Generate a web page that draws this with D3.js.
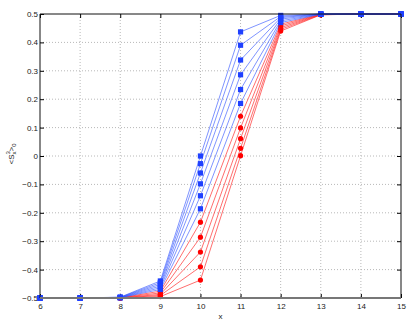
<!DOCTYPE html>
<html>
<head>
<meta charset="utf-8">
<script src="https://cdn.jsdelivr.net/npm/d3@7"></script>
<style>
  body { margin: 0; background: #fff; }
  svg { font-family: "Liberation Sans", Arial, sans-serif; }
</style>
</head>
<body>
<script>
// x positions
const xs = [6, 7, 8, 9, 10, 11, 12, 13, 14, 15];
const xTicks = [6, 7, 8, 9, 10, 11, 12, 13, 14, 15];
const yTicks = [-0.5, -0.4, -0.3, -0.2, -0.1, 0, 0.1, 0.2, 0.3, 0.4, 0.5];

// blue series (square markers)
const b1 = [-0.5, -0.5, -0.497, -0.440, 0.000, 0.437, 0.495, 0.500, 0.5, 0.5];
const b2 = [-0.5, -0.5, -0.4975, -0.446, -0.027, 0.390, 0.491, 0.500, 0.5, 0.5];
const b3 = [-0.5, -0.5, -0.498, -0.452, -0.060, 0.338, 0.487, 0.500, 0.5, 0.5];
const b4 = [-0.5, -0.5, -0.4985, -0.458, -0.098, 0.286, 0.482, 0.4995, 0.5, 0.5];
const b5 = [-0.5, -0.5, -0.499, -0.464, -0.140, 0.234, 0.476, 0.4995, 0.5, 0.5];
const b6 = [-0.5, -0.5, -0.499, -0.470, -0.186, 0.185, 0.470, 0.499, 0.5, 0.5];
// red series (circle markers)
const r1 = [-0.5, -0.5, -0.4995, -0.476, -0.233, 0.140, 0.464, 0.499, 0.5, 0.5];
const r2 = [-0.5, -0.5, -0.4995, -0.482, -0.286, 0.099, 0.458, 0.4985, 0.5, 0.5];
const r3 = [-0.5, -0.5, -0.5, -0.487, -0.338, 0.061, 0.452, 0.498, 0.5, 0.5];
const r4 = [-0.5, -0.5, -0.5, -0.491, -0.390, 0.027, 0.446, 0.4975, 0.5, 0.5];
const r5 = [-0.5, -0.5, -0.5, -0.495, -0.437, 0.001, 0.440, 0.497, 0.5, 0.5];

const blueSeries = [b1, b2, b3, b4, b5, b6];
const redSeries = [r1, r2, r3, r4, r5];

const width = 415;
const height = 322;
const margin = { top: 14, right: 14, bottom: 24, left: 40 };
const innerWidth = width - margin.left - margin.right;
const innerHeight = height - margin.top - margin.bottom;

const svg = d3.select('body').append('svg')
  .attr('width', width)
  .attr('height', height);

const chart = svg.append('g')
  .attr('transform', `translate(${margin.left},${margin.top})`);

const xScale = d3.scaleLinear().domain([6, 15]).range([0, innerWidth]);
const yScale = d3.scaleLinear().domain([-0.5, 0.5]).range([innerHeight, 0]);

// dotted grid
chart.append('g')
  .selectAll('line')
  .data(xTicks.slice(1, -1))
  .enter().append('line')
  .attr('x1', d => xScale(d)).attr('x2', d => xScale(d))
  .attr('y1', 0).attr('y2', innerHeight)
  .attr('stroke', '#b8b8b8').attr('stroke-dasharray', '1,2');
chart.append('g')
  .selectAll('line')
  .data(yTicks.slice(1, -1))
  .enter().append('line')
  .attr('x1', 0).attr('x2', innerWidth)
  .attr('y1', d => yScale(d)).attr('y2', d => yScale(d))
  .attr('stroke', '#b8b8b8').attr('stroke-dasharray', '1,2');

const yFmt = d => d === 0 ? '0' : d3.format('.1f')(d);

// axes with inward ticks
chart.append('g')
  .attr('transform', `translate(0,${innerHeight})`)
  .call(d3.axisBottom(xScale).tickValues(xTicks).tickSizeInner(-4).tickSizeOuter(0).tickPadding(5))
  .call(g => g.select('.domain').remove())
  .call(g => g.selectAll('text').attr('font-size', 8).attr('fill', '#222'));
chart.append('g')
  .call(d3.axisTop(xScale).tickValues(xTicks).tickSizeInner(-4).tickSizeOuter(0).tickFormat(''))
  .call(g => g.select('.domain').remove());
chart.append('g')
  .call(d3.axisLeft(yScale).tickValues(yTicks).tickSizeInner(-4).tickSizeOuter(0).tickPadding(2).tickFormat(yFmt))
  .call(g => g.select('.domain').remove())
  .call(g => g.selectAll('text').attr('font-size', 8).attr('fill', '#222'));
chart.append('g')
  .attr('transform', `translate(${innerWidth},0)`)
  .call(d3.axisRight(yScale).tickValues(yTicks).tickSizeInner(-4).tickSizeOuter(0).tickFormat(''))
  .call(g => g.select('.domain').remove());

const line = d3.line()
  .x((d, i) => xScale(xs[i]))
  .y(d => yScale(d));

// red drawn first so blue sits on top
redSeries.slice().reverse().forEach(s => {
  chart.append('path')
    .datum(s)
    .attr('fill', 'none')
    .attr('stroke', '#ff2020')
    .attr('stroke-opacity', 0.65)
    .attr('stroke-width', 1)
    .attr('d', line);
  chart.selectAll(null)
    .data(s)
    .enter().append('circle')
    .attr('cx', (d, i) => xScale(xs[i]))
    .attr('cy', d => yScale(d))
    .attr('r', 2.6)
    .attr('fill', '#f00');
});
blueSeries.slice().reverse().forEach(s => {
  chart.append('path')
    .datum(s)
    .attr('fill', 'none')
    .attr('stroke', '#2a4dff')
    .attr('stroke-opacity', 0.6)
    .attr('stroke-width', 1)
    .attr('d', line);
  chart.selectAll(null)
    .data(s)
    .enter().append('rect')
    .attr('x', (d, i) => xScale(xs[i]) - 2.6)
    .attr('y', d => yScale(d) - 2.6)
    .attr('width', 5.2)
    .attr('height', 5.2)
    .attr('fill', '#1f40ff');
});

// box
chart.append('path')
  .attr('d', `M0,${innerHeight}V0H${innerWidth}V${innerHeight}`)
  .attr('fill', 'none').attr('stroke', '#111').attr('stroke-width', 1);
chart.append('line')
  .attr('x1', 0).attr('x2', innerWidth)
  .attr('y1', innerHeight).attr('y2', innerHeight)
  .attr('stroke', '#777').attr('stroke-width', 2);

// axis titles
svg.append('text')
  .attr('x', margin.left + innerWidth / 2)
  .attr('y', height - 3.5)
  .attr('text-anchor', 'middle')
  .attr('font-size', 8)
  .attr('fill', '#222')
  .text('x');

const yl = svg.append('text')
  .attr('transform', `translate(14,${margin.top + innerHeight / 2 - 2}) rotate(-90)`)
  .attr('text-anchor', 'middle')
  .attr('font-size', 8)
  .attr('fill', '#222');
yl.append('tspan').text('<S');
yl.append('tspan').attr('font-size', 6).attr('dy', -4).text('3');
yl.append('tspan').attr('font-size', 6).attr('dx', -3.3).attr('dy', 6).text('x');
yl.append('tspan').attr('dy', -2).text('>');
yl.append('tspan').attr('font-size', 6).attr('dy', 2).text('0');
</script>
</body>
</html>
